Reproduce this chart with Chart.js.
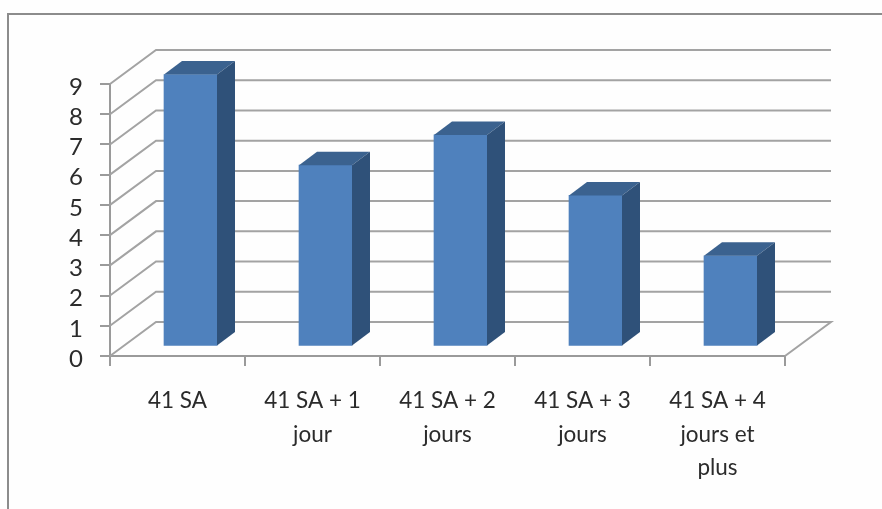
<!DOCTYPE html>
<html>
<head>
<meta charset="utf-8">
<style>
  html, body { margin: 0; background: #fefefe; overflow: hidden; }
  /* the original is a soft, upscaled picture */
  canvas { display: block; filter: blur(0.45px); }
</style>
<script src="https://cdn.jsdelivr.net/npm/chart.js@4"></script>
</head>
<body>
<canvas id="myChart" width="882" height="509"></canvas>
<script>
const categories = [
  '41 SA',
  ['41 SA + 1', 'jour'],
  ['41 SA + 2', 'jours'],
  ['41 SA + 3', 'jours'],
  ['41 SA + 4', 'jours et', 'plus']
];
const values = [9, 6, 7, 5, 3];
const yMax = 9;

const gridColor = '#a3a3a3';
const axisColor = '#9a9a9a';
const textColor = '#2b2b2b';

// fake 3d: back wall offset from the axes, bars stand part way in
const wallDx = 46, wallDy = -34;
const barDx = 13, barDy = -9.5;
const sideDx = 18, sideDy = -13.5;

const frame3d = {
  id: 'frame3d',
  beforeDraw(chart) {
    // outer frame of the pasted picture
    const ctx = chart.ctx;
    ctx.save();
    ctx.strokeStyle = '#8c8c8c';
    ctx.lineWidth = 2;
    ctx.beginPath();
    ctx.moveTo(8, 509);
    ctx.lineTo(8, 14);
    ctx.lineTo(882, 14);
    ctx.stroke();
    ctx.restore();
  },
  beforeDatasetsDraw(chart) {
    const ctx = chart.ctx;
    const { left, right } = chart.chartArea;
    const yScale = chart.scales.y;
    ctx.save();
    ctx.strokeStyle = gridColor;
    ctx.lineWidth = 2;
    yScale.ticks.forEach(t => {
      const y = yScale.getPixelForValue(t.value);
      ctx.beginPath();
      ctx.moveTo(left, y);
      ctx.lineTo(left + wallDx, y + wallDy);
      ctx.lineTo(right + wallDx, y + wallDy);
      if (t.value === 0) ctx.lineTo(right, y);
      ctx.stroke();
    });
    ctx.restore();
    // bars sit on the floor, not on the axis line
    ctx.save();
    ctx.translate(barDx, barDy);
  },
  afterDatasetsDraw(chart) {
    const ctx = chart.ctx;
    chart.getDatasetMeta(0).data.forEach(bar => {
      const l = bar.x - bar.width / 2;
      const r = bar.x + bar.width / 2;
      // top face
      ctx.fillStyle = '#3b628f';
      ctx.beginPath();
      ctx.moveTo(l, bar.y);
      ctx.lineTo(l + sideDx, bar.y + sideDy);
      ctx.lineTo(r + sideDx, bar.y + sideDy);
      ctx.lineTo(r, bar.y);
      ctx.closePath();
      ctx.fill();
      // side face
      ctx.fillStyle = '#2f5179';
      ctx.beginPath();
      ctx.moveTo(r, bar.y);
      ctx.lineTo(r + sideDx, bar.y + sideDy);
      ctx.lineTo(r + sideDx, bar.base + sideDy);
      ctx.lineTo(r, bar.base);
      ctx.closePath();
      ctx.fill();
    });
    ctx.restore();
  }
};

new Chart(document.getElementById('myChart'), {
  type: 'bar',
  data: {
    labels: categories,
    datasets: [{
      data: values,
      backgroundColor: '#4f81bd',
      borderWidth: 0,
      barThickness: 53,
      clip: false
    }]
  },
  options: {
    responsive: false,
    animation: false,
    layout: { padding: { top: 84, right: 97, bottom: 0, left: 0 } },
    plugins: { legend: { display: false }, tooltip: { enabled: false } },
    scales: {
      x: {
        afterFit: scale => { scale.height = 153; },
        border: { color: axisColor, width: 2 },
        grid: { drawOnChartArea: false, color: axisColor, lineWidth: 2, tickLength: 10, offset: true },
        ticks: {
          maxRotation: 0,
          autoSkip: false,
          padding: 18,
          color: textColor,
          font: { family: 'Lato', size: 22.5, lineHeight: '33.5px' }
        }
      },
      y: {
        min: 0,
        max: yMax,
        afterFit: scale => { scale.width = 110; },
        border: { color: axisColor, width: 2 },
        grid: { drawOnChartArea: false, color: axisColor, lineWidth: 2, tickLength: 10 },
        ticks: {
          stepSize: 1,
          padding: 17,
          color: textColor,
          // empty first line pushes the digit down a little, as in the original
          callback: value => ['', String(value)],
          font: { family: 'Lato', size: 24, lineHeight: '6px' }
        }
      }
    }
  },
  plugins: [frame3d]
});
</script>
</body>
</html>
